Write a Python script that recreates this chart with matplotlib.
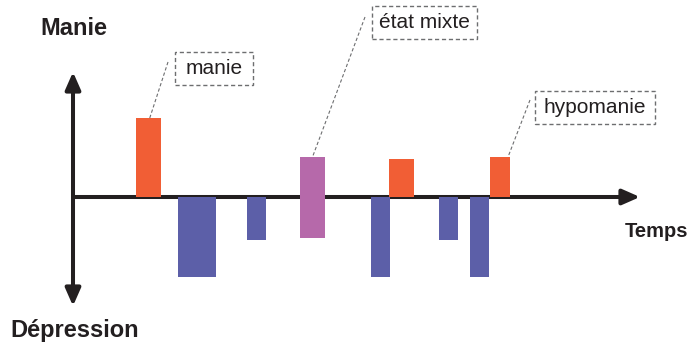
import matplotlib
matplotlib.use("Agg")
import matplotlib.pyplot as plt
from matplotlib.patches import Rectangle

# Episodes along the time axis: start, duration, lower and upper intensity
episode_kind = ["manie", "depression", "depression", "mixte", "depression",
                "hypomanie", "depression", "depression", "hypomanie"]
episode_start = [6.3, 10.5, 17.4, 22.7, 29.8, 31.6, 36.6, 39.7, 41.7]
episode_width = [2.5, 3.8, 1.9, 2.5, 1.9, 2.5, 1.9, 1.9, 2.0]
episode_low = [0.0, -8.0, -4.3, -4.1, -8.0, 0.0, -4.3, -8.0, 0.0]
episode_high = [7.9, 0.0, 0.0, 4.0, 0.0, 3.8, 0.0, 0.0, 4.0]

kind_colors = {"manie": "#F15E35", "hypomanie": "#F15E35",
               "depression": "#5C5FA8", "mixte": "#B669AA"}

# Callout labels: text, episode index they point to
callout_text = ["manie", "état mixte", "hypomanie"]
callout_target = [0, 3, 8]

axis_labels = ["Manie", "Dépression", "Temps"]

INK = "#231F20"
FONT = "Liberation Sans"

fig = plt.figure(figsize=(6.9, 3.49), dpi=100)
ax = fig.add_axes([0, 0, 1, 1])
ax.set_xlim(-7.3, 61.7)
ax.set_ylim(-15.2, 19.7)
ax.axis("off")

# Time axis (horizontal) and mood axis (vertical, both directions)
ax.annotate("", xy=(56.7, 0), xytext=(0, 0),
            arrowprops=dict(arrowstyle="-|>,head_length=0.5,head_width=0.22",
                            mutation_scale=21, lw=2.9, color=INK,
                            shrinkA=0, shrinkB=0), zorder=1)
ax.annotate("", xy=(0, 12.5), xytext=(0, -10.9),
            arrowprops=dict(arrowstyle="<|-|>,head_length=0.5,head_width=0.22",
                            mutation_scale=21, lw=2.9, color=INK,
                            shrinkA=0, shrinkB=0), zorder=1)

# Episode bars
for kind, x0, w, lo, hi in zip(episode_kind, episode_start, episode_width,
                               episode_low, episode_high):
    ax.bar(x0, hi - lo, width=w, bottom=lo, align="edge",
           color=kind_colors[kind], linewidth=0, zorder=2)

# Callout boxes with dashed leader lines to the episodes
box_center = [(14.1, 12.85), (35.15, 17.45), (52.2, 8.95)]
box_size = [(7.8, 3.3), (10.5, 3.3), (12.0, 3.3)]
leader_from = [(9.5, 13.5), (29.2, 18.0), (45.7, 9.7)]
leader_frac = [0.55, 0.5, 0.9]

for text, idx, (cx, cy), (bw, bh), (lx, ly), f in zip(
        callout_text, callout_target, box_center, box_size, leader_from, leader_frac):
    ax.add_patch(Rectangle((cx - bw / 2, cy - bh / 2), bw, bh, fill=False,
                           edgecolor="#6D6E70", lw=1.0, linestyle=(0, (3, 2)),
                           zorder=3))
    ax.text(cx, cy, text, ha="center", va="center", fontsize=15,
            family=FONT, color=INK, zorder=4)
    tx = episode_start[idx] + f * episode_width[idx]
    ty = episode_high[idx]
    ax.plot([lx, tx], [ly, ty], color="#6D6E70", lw=0.8,
            linestyle=(0, (3, 2)), zorder=3)

# Axis titles
ax.text(-3.3, 16.2, axis_labels[0], ha="left", va="baseline", fontsize=17,
        fontweight="bold", family=FONT, color=INK)
ax.text(-6.3, -14.0, axis_labels[1], ha="left", va="baseline", fontsize=17,
        fontweight="bold", family=FONT, color=INK)
ax.text(61.5, -4.0, axis_labels[2], ha="right", va="baseline", fontsize=14.5,
        fontweight="bold", family=FONT, color=INK)

fig.savefig("out.png", dpi=100)
